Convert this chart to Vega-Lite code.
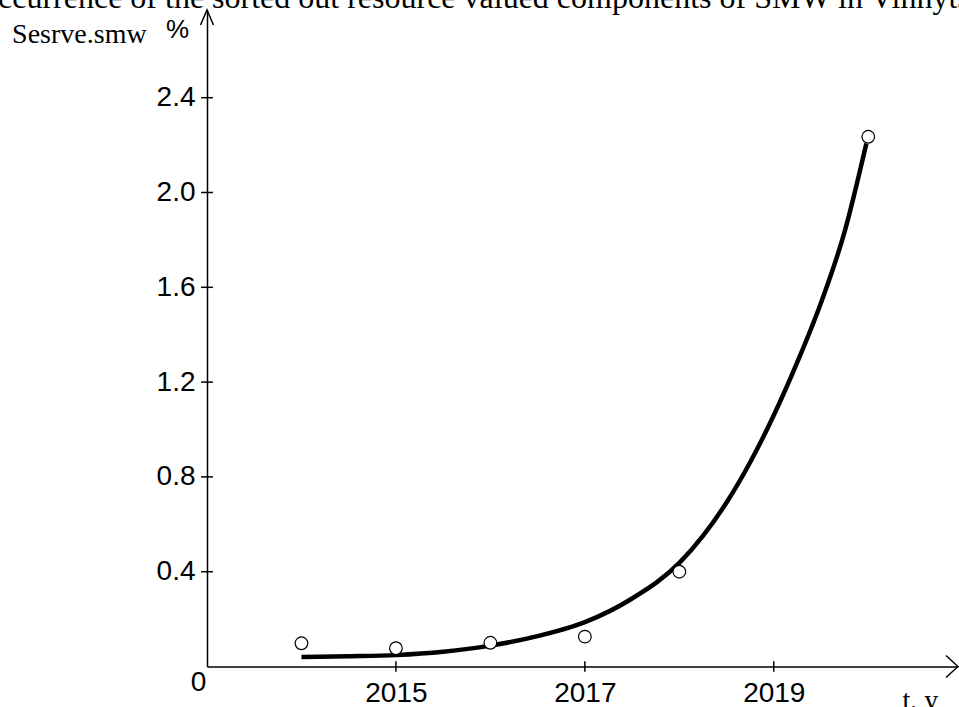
{
  "$schema": "https://vega.github.io/schema/vega-lite/v6.json",
  "width": 751,
  "height": 656.5,
  "autosize": {"type": "none"},
  "padding": {"left": 207, "top": 10, "right": 1, "bottom": 40.5},
  "background": "white",
  "config": {"view": {"stroke": null}},
  "title": {
    "text": "occurrence of the sorted out resource valued components of SMW in Vinnytsia region",
    "anchor": "start",
    "frame": "group",
    "font": "Liberation Serif",
    "fontSize": 32,
    "fontWeight": "normal",
    "color": "black",
    "baseline": "alphabetic",
    "offset": 0,
    "dx": -225,
    "dy": 33
  },
  "datasets": {
    "obs": [
      {"year": 2014, "value": 0.098},
      {"year": 2015, "value": 0.077},
      {"year": 2016, "value": 0.100},
      {"year": 2017, "value": 0.126},
      {"year": 2018, "value": 0.400},
      {"year": 2020, "value": 2.235}
    ],
    "fit": [
      {"year": 2014.0, "value": 0.040},
      {"year": 2014.5, "value": 0.043},
      {"year": 2015.0, "value": 0.048},
      {"year": 2015.5, "value": 0.062},
      {"year": 2016.0, "value": 0.088},
      {"year": 2016.5, "value": 0.128},
      {"year": 2017.0, "value": 0.187},
      {"year": 2017.5, "value": 0.287},
      {"year": 2018.0, "value": 0.437},
      {"year": 2018.25, "value": 0.551},
      {"year": 2018.5, "value": 0.692},
      {"year": 2018.75, "value": 0.862},
      {"year": 2019.0, "value": 1.06},
      {"year": 2019.25, "value": 1.285},
      {"year": 2019.5, "value": 1.535},
      {"year": 2019.75, "value": 1.835},
      {"year": 2019.98, "value": 2.207}
    ],
    "yticks": [
      {"value": 0.4}, {"value": 0.8}, {"value": 1.2}, {"value": 1.6}, {"value": 2.0}, {"value": 2.4}
    ],
    "xticks": [
      {"year": 2015}, {"year": 2017}, {"year": 2019}
    ]
  },
  "layer": [
    {
      "data": {"name": "fit"},
      "mark": {"type": "line", "color": "black", "strokeWidth": 4.5, "interpolate": "monotone"},
      "encoding": {
        "x": {
          "field": "year",
          "type": "quantitative",
          "scale": {"domain": [2013, 2020.95], "nice": false, "zero": false},
          "axis": {
            "values": [2013, 2015, 2017, 2019],
            "format": "d",
            "labelExpr": "datum.value == 2013 ? '0' : datum.label",
            "ticks": false,
            "tickSize": 0,
            "grid": false,
            "domainColor": "black",
            "domainWidth": 1.5,
            "labelFont": "Liberation Sans",
            "labelFontSize": 28,
            "labelColor": "black",
            "labelBaseline": "top",
            "labelPadding": {"condition": {"test": "datum.value == 2013", "value": 2}, "value": 13},
            "labelOffset": {"condition": {"test": "datum.value == 2013", "value": -9}, "value": 0},
            "labelFlush": false,
            "labelOverlap": false,
            "title": "t, y",
            "titleFont": "Liberation Serif",
            "titleFontSize": 28,
            "titleFontWeight": "normal",
            "titleColor": "black",
            "titleAlign": "left",
            "titleBaseline": "alphabetic",
            "titleAnchor": null,
            "titleX": 695,
            "titleY": 42
          }
        },
        "y": {
          "field": "value",
          "type": "quantitative",
          "scale": {"domain": [0, 2.77], "nice": false},
          "axis": {
            "values": [0.4, 0.8, 1.2, 1.6, 2.0, 2.4],
            "format": ".1f",
            "ticks": false,
            "tickSize": 0,
            "grid": false,
            "domainColor": "black",
            "domainWidth": 1.5,
            "labelFont": "Liberation Sans",
            "labelFontSize": 28,
            "labelColor": "black",
            "labelPadding": 12,
            "labelFlush": false,
            "labelOverlap": false,
            "title": "%",
            "titleFont": "Liberation Sans",
            "titleFontSize": 26,
            "titleFontWeight": "normal",
            "titleColor": "black",
            "titleAngle": 0,
            "titleAlign": "center",
            "titleBaseline": "middle",
            "titleAnchor": null,
            "titleX": -30,
            "titleY": 19
          }
        }
      }
    },
    {
      "data": {"name": "obs"},
      "mark": {"type": "point", "shape": "circle", "size": 160, "filled": true, "fill": "white", "stroke": "black", "strokeWidth": 1.2, "opacity": 1},
      "encoding": {
        "x": {"field": "year", "type": "quantitative"},
        "y": {"field": "value", "type": "quantitative"}
      }
    },
    {
      "data": {"name": "yticks"},
      "mark": {"type": "rule", "color": "black", "strokeWidth": 1.5},
      "encoding": {
        "x": {"datum": 2012.937, "type": "quantitative"},
        "x2": {"datum": 2013.063},
        "y": {"field": "value", "type": "quantitative"}
      }
    },
    {
      "data": {"name": "xticks"},
      "mark": {"type": "rule", "color": "black", "strokeWidth": 1.5},
      "encoding": {
        "x": {"field": "year", "type": "quantitative"},
        "y": {"datum": -0.022, "type": "quantitative"},
        "y2": {"datum": 0.022}
      }
    },
    {
      "data": {"values": [{"k": 1}]},
      "mark": {"type": "point", "shape": "M-1,-0.92L0,0L-1,0.92", "size": 576, "filled": false, "stroke": "black", "strokeWidth": 1.5, "opacity": 1},
      "encoding": {
        "x": {"datum": 2020.95, "type": "quantitative"},
        "y": {"datum": 0, "type": "quantitative"}
      }
    },
    {
      "data": {"values": [{"k": 1}]},
      "mark": {"type": "point", "shape": "M-0.54,1.25L0,0L0.54,1.25", "size": 576, "filled": false, "stroke": "black", "strokeWidth": 1.5, "opacity": 1},
      "encoding": {
        "x": {"datum": 2013, "type": "quantitative"},
        "y": {"datum": 2.77, "type": "quantitative"}
      }
    },
    {
      "data": {"values": [{"k": 1}]},
      "mark": {"type": "text", "text": "Sesrve.smw", "align": "left", "baseline": "alphabetic", "font": "Liberation Serif", "fontSize": 28, "color": "black"},
      "encoding": {
        "x": {"datum": 2010.937, "type": "quantitative"},
        "y": {"datum": 2.631, "type": "quantitative"}
      }
    }
  ]
}
